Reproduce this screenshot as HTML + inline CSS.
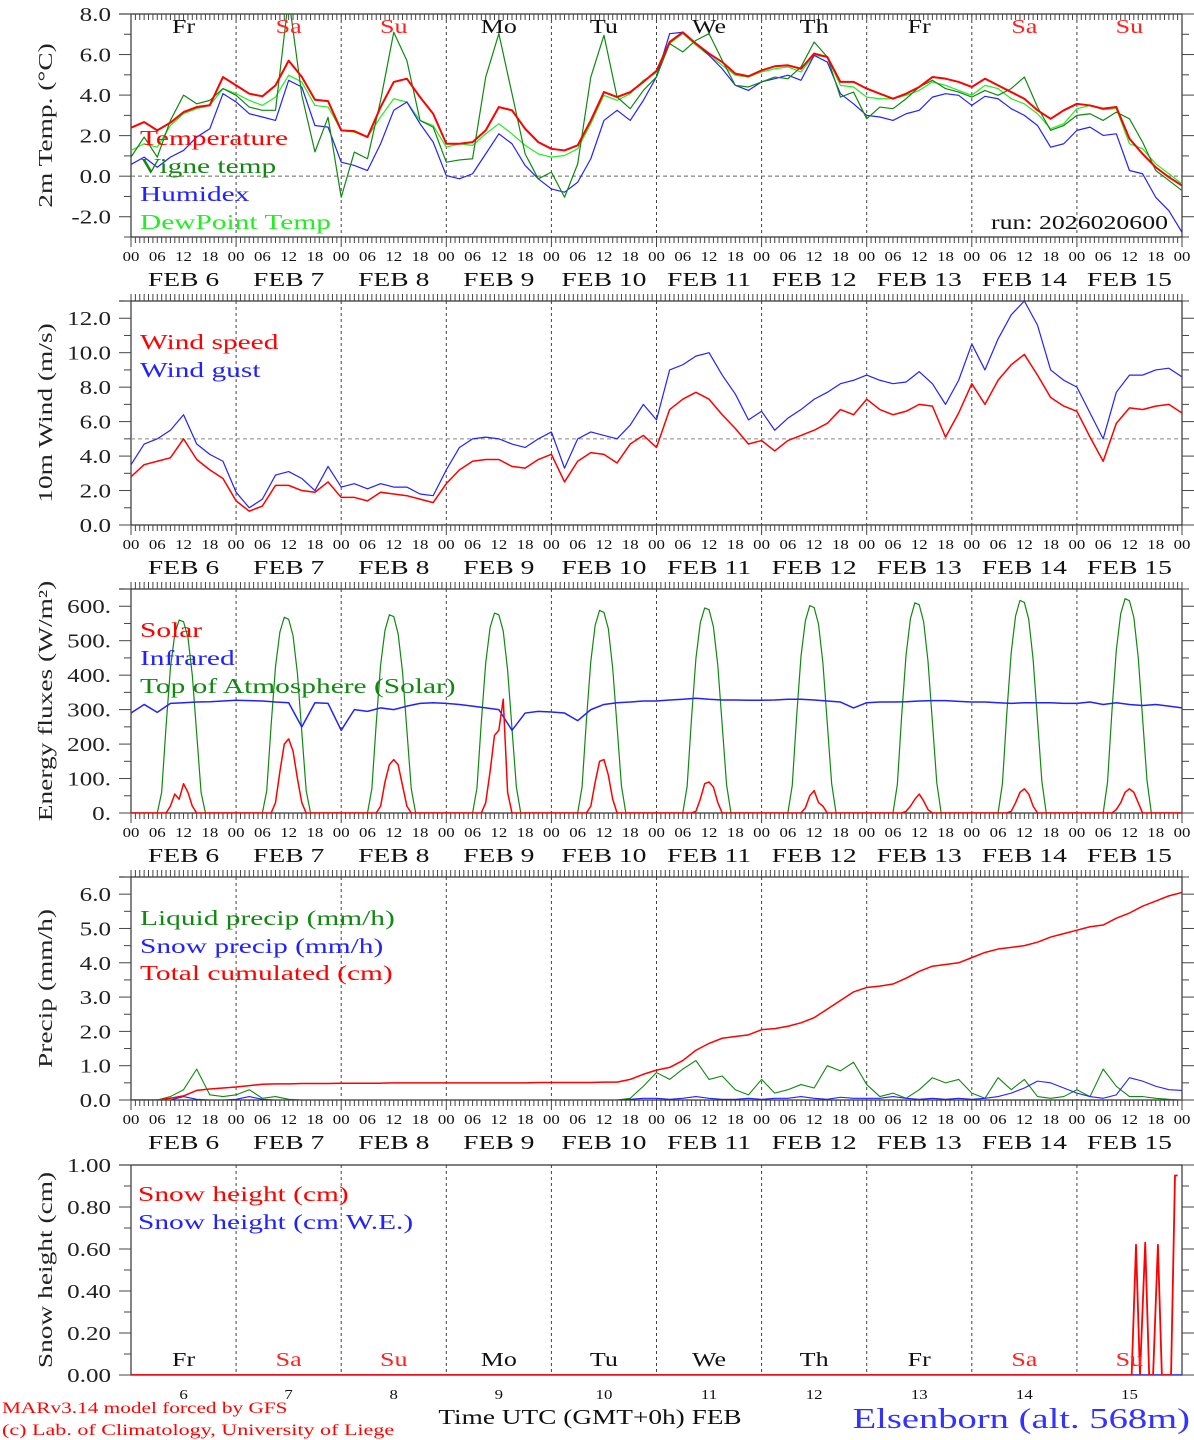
<!DOCTYPE html>
<html><head><meta charset="utf-8"><style>
html,body{margin:0;padding:0;background:#fff}
svg{display:block;font-family:"Liberation Serif","DejaVu Serif",serif}
</style></head><body>
<svg id="chart" width="1194" height="1440" viewBox="0 0 1194 1440" xmlns="http://www.w3.org/2000/svg"></svg>
<script>
// ---------- DATA ----------
const hours3 = [0,3,6,9,12,15,18,21,24,27,30,33,36,39,42,45,48,51,54,57,60,63,66,69,72,75,78,81,84,87,90,93,96,99,102,105,108,111,114,117,120,123,126,129,132,135,138,141,144,147,150,153,156,159,162,165,168,171,174,177,180,183,186,189,192,195,198,201,204,207,210,213,216,219,222,225,228,231,234,237,240];
const dayLabels = ["6","7","8","9","10","11","12","13","14","15"];
const dayNames = ["Fr","Sa","Su","Mo","Tu","We","Th","Fr","Sa","Su"];
const weekend = [false,true,true,false,false,false,false,false,true,true];
const hourTickLabels = ["00","06","12","18"];

const temperature = [2.39,2.67,2.26,2.64,3.16,3.41,3.5,4.89,4.48,4.07,3.94,4.48,5.7,4.9,3.77,3.7,2.26,2.22,1.93,3.41,4.65,4.81,3.9,3.08,1.6,1.6,1.68,2.26,3.41,3.25,2.34,1.68,1.35,1.27,1.52,2.75,4.15,3.9,4.15,4.65,5.2,6.62,7.1,6.54,6.05,5.63,5.06,4.93,5.22,5.42,5.47,5.3,6.05,5.88,4.65,4.65,4.32,4.07,3.82,4.07,4.4,4.89,4.81,4.65,4.4,4.81,4.48,4.15,3.82,3.25,2.83,3.25,3.57,3.49,3.33,3.41,1.85,1.1,0.44,-0.05,-0.46];
const vigneTemp = [0.94,1.93,0.94,2.75,4.0,3.57,3.74,4.32,3.99,3.41,3.25,3.25,8.8,4.0,1.2,2.9,-1.04,1.19,0.86,3.74,7.1,5.7,2.75,2.42,0.69,0.8,0.86,4.89,7.03,4.07,1.1,-0.13,0.2,-1.04,0.6,4.89,6.95,3.9,3.33,4.23,4.9,6.54,6.13,6.7,7.03,5.72,4.48,4.4,4.65,4.89,4.81,5.39,6.62,5.88,3.9,4.15,2.83,3.41,3.33,3.82,4.4,4.73,4.32,4.15,3.9,4.23,3.99,4.32,4.89,3.41,2.26,2.5,3.0,3.08,2.75,3.16,2.83,1.68,0.28,-0.21,-0.71];
const humidex = [0.58,0.94,0.44,0.94,1.27,1.93,2.34,4.07,3.66,3.08,2.92,2.75,4.73,4.4,2.5,2.42,0.69,0.53,0.28,1.6,3.25,3.66,2.59,1.68,0.03,-0.13,0.12,1.1,2.09,1.6,0.53,-0.13,-0.63,-0.79,-0.3,0.86,2.75,3.25,2.75,3.74,4.9,7.03,7.1,6.54,5.96,5.3,4.48,4.23,4.65,4.81,4.98,4.73,5.96,5.63,4.07,3.57,3.0,2.92,2.75,3.08,3.25,3.9,4.07,3.99,3.49,3.94,3.82,3.33,3.0,2.5,1.43,1.6,2.26,2.42,2.01,2.09,0.28,0.12,-1.04,-1.7,-2.77];
const dewPoint = [1.27,1.6,1.43,2.5,3.08,3.33,3.49,4.32,4.07,3.74,3.49,3.9,4.98,4.65,3.49,3.41,2.26,2.17,1.93,2.92,3.82,3.66,2.75,2.5,1.43,1.6,1.52,2.09,2.59,2.09,1.52,1.1,0.94,1.02,1.35,2.59,3.99,3.74,4.07,4.73,5.1,6.54,7.03,6.46,5.96,5.47,4.98,4.89,5.14,5.3,5.39,5.14,5.96,5.88,4.48,4.4,3.9,3.82,3.82,3.99,4.23,4.65,4.48,4.23,3.99,4.48,4.32,3.82,3.57,3.08,2.34,2.59,3.33,3.49,3.28,3.33,1.6,1.35,0.61,0.12,-0.38];

const windSpeed = [2.8,3.5,3.7,3.9,5.0,3.8,3.2,2.7,1.4,0.8,1.1,2.3,2.3,2.0,1.9,2.5,1.6,1.6,1.4,1.9,1.8,1.7,1.5,1.3,2.4,3.2,3.7,3.8,3.8,3.4,3.3,3.8,4.1,2.5,3.7,4.2,4.1,3.6,4.7,5.2,4.5,6.7,7.3,7.7,7.3,6.4,5.6,4.7,4.9,4.3,4.9,5.2,5.5,5.9,6.7,6.4,7.3,6.7,6.4,6.6,7.0,6.9,5.1,6.5,8.2,7.0,8.4,9.3,9.9,8.7,7.4,6.9,6.6,5.1,3.7,5.9,6.8,6.7,6.9,7.0,6.5];
const windGust = [3.5,4.7,5.0,5.5,6.4,4.7,4.1,3.7,1.9,1.0,1.5,2.9,3.1,2.7,2.0,3.4,2.2,2.4,2.1,2.4,2.2,2.2,1.8,1.7,3.2,4.5,5.0,5.1,5.0,4.7,4.5,5.0,5.4,3.3,5.0,5.4,5.2,5.0,5.8,7.0,6.1,9.0,9.3,9.8,10.0,8.7,7.6,6.1,6.6,5.5,6.2,6.7,7.3,7.7,8.2,8.4,8.7,8.4,8.2,8.3,8.9,8.2,7.0,8.4,10.5,9.0,10.8,12.2,13.0,11.6,9.0,8.4,8.0,6.5,5.0,7.7,8.7,8.7,9.0,9.1,8.6];

const sunHours = [0,6,7,8,9,10,11,12,13,14,15,16,17,30,31,32,33,34,35,36,37,38,39,40,41,54,55,56,57,58,59,60,61,62,63,64,65,78,79,80,81,82,83,84,85,86,87,88,89,102,103,104,105,106,107,108,109,110,111,112,113,126,127,128,129,130,131,132,133,134,135,136,137,150,151,152,153,154,155,156,157,158,159,160,161,174,175,176,177,178,179,180,181,182,183,184,185,198,199,200,201,202,203,204,205,206,207,208,209,222,223,224,225,226,227,228,229,230,231,232,233,240];
const toaSolar = [0,0,60,250,420,520,560,555,510,400,230,60,0,0,65,255,425,525,568,562,515,405,235,65,0,0,70,260,430,530,575,570,520,410,240,70,0,0,72,265,435,538,580,575,528,415,245,75,0,0,75,270,440,545,588,582,535,420,250,78,0,0,78,275,448,552,595,590,540,428,255,82,0,0,80,280,455,558,602,596,548,435,260,85,0,0,83,285,460,565,610,604,555,440,265,88,0,0,86,290,466,572,617,611,562,446,270,92,0,0,90,295,472,578,622,616,568,452,275,95,0,0];
const solar = [0,0,0,0,20,55,40,85,60,20,0,0,0,0,0,0,30,120,200,215,180,100,30,0,0,0,0,0,20,90,140,155,140,80,20,0,0,0,0,0,30,120,225,240,330,60,0,0,0,0,0,0,20,90,150,155,110,40,0,0,0,0,0,0,5,40,85,90,75,30,0,0,0,0,0,0,0,15,50,65,30,20,0,0,0,0,0,0,5,20,40,55,35,10,0,0,0,0,0,0,5,30,60,70,55,20,0,0,0,0,0,0,10,30,60,70,60,30,0,0,0,0];
const infrared = [290,315,292,318,320,322,323,325,327,326,325,322,320,250,320,318,240,300,295,305,300,310,318,320,318,315,310,305,300,240,290,295,293,290,268,300,315,320,322,325,325,328,330,333,330,328,328,327,327,328,330,330,328,325,322,305,320,322,322,323,325,326,326,324,322,322,320,318,320,320,320,318,318,322,315,320,315,312,315,310,305];

const liquidPrecip = [0,0,0,0.1,0.3,0.9,0.15,0.1,0.15,0.3,0.05,0.1,0.02,0,0,0,0,0,0,0,0,0,0,0,0,0,0,0,0,0,0,0,0,0,0,0,0,0,0.05,0.4,0.8,0.6,0.9,1.15,0.6,0.7,0.3,0.15,0.6,0.2,0.3,0.45,0.35,1.0,0.85,1.1,0.45,0.1,0.2,0.05,0.3,0.65,0.5,0.6,0.2,0.05,0.65,0.3,0.6,0.1,0.05,0.1,0.3,0.1,0.9,0.4,0.1,0.1,0.05,0.02,0];
const snowPrecip = [0,0,0,0,0.1,0.02,0,0,0.02,0.1,0.02,0,0,0,0,0,0,0,0,0,0,0,0,0,0,0,0,0,0,0,0,0,0,0,0,0,0,0,0.02,0.05,0.05,0.02,0.05,0.1,0.05,0.02,0.02,0.05,0.02,0.05,0.05,0.1,0.05,0.02,0.08,0.05,0.05,0.05,0.1,0.05,0.02,0.05,0.02,0.05,0.02,0.05,0.1,0.2,0.35,0.55,0.5,0.35,0.2,0.1,0.05,0.15,0.65,0.55,0.4,0.3,0.28];
const totalCumulated = [0,0,0,0.05,0.12,0.28,0.32,0.35,0.38,0.42,0.46,0.47,0.47,0.48,0.48,0.48,0.49,0.49,0.49,0.49,0.5,0.5,0.5,0.5,0.5,0.5,0.5,0.5,0.5,0.5,0.5,0.51,0.51,0.51,0.51,0.51,0.52,0.52,0.6,0.75,0.87,0.95,1.15,1.45,1.65,1.8,1.85,1.9,2.05,2.08,2.15,2.25,2.4,2.65,2.9,3.15,3.28,3.32,3.38,3.55,3.75,3.9,3.95,4.0,4.15,4.3,4.4,4.45,4.5,4.6,4.75,4.85,4.95,5.05,5.1,5.3,5.45,5.65,5.8,5.95,6.05];

const snowHours = [0,228.5,229.5,230.4,231.6,232.5,233.4,234.5,235.4,237.5,238.4,239];
const snowHeight = [0,0,0.62,0,0.63,0,0,0.62,0,0,0.95,0.95];
const snowWEHours = [0,240];
const snowWE = [0,0];

// ---------- DRAWING ----------
const NS = "http://www.w3.org/2000/svg";
const svg = document.getElementById("chart");
const X0 = 131, X1 = 1182, TMAX = 240;
function xs(t){ return X0 + t*(X1-X0)/TMAX; }
function mk(tag, attrs, parent){
  const e = document.createElementNS(NS, tag);
  for (const k in attrs) e.setAttribute(k, attrs[k]);
  (parent||svg).appendChild(e);
  return e;
}
function txt(s, x, y, size, color, anchor, parent, name, stretch){
  const e = mk("text", {x:x, y:y, "font-size":size, fill:color||"#000", "text-anchor":anchor||"start"}, parent);
  e.setAttribute("xml:space","preserve");
  
  
  e.textContent = s;
  const f = stretch || 1.33;
  try {
    const w = e.getComputedTextLength();
    if (w > 0){ e.setAttribute("textLength", (w*f).toFixed(1)); e.setAttribute("lengthAdjust", "spacingAndGlyphs"); }
  } catch(err) {}
  return e;
}

const panels = [
  {name:"temperature-panel", top:14, bot:237, min:-3, max:8, major:2, minor:1, fmt:v=>v.toFixed(1), title:"2m Temp. (\u00B0C)", hours:true},
  {name:"wind-panel", top:301, bot:525, min:0, max:13, major:2, minor:1, fmt:v=>v.toFixed(1), title:"10m Wind (m/s)", hours:true},
  {name:"energy-panel", top:589, bot:813, min:0, max:650, major:100, minor:50, fmt:v=>v.toFixed(0)+".", title:"Energy fluxes (W/m\u00B2)", hours:true},
  {name:"precip-panel", top:877, bot:1100, min:0, max:6.5, major:1, minor:0.5, fmt:v=>v.toFixed(1), title:"Precip (mm/h)", hours:true},
  {name:"snow-panel", top:1165, bot:1375, min:0, max:1, major:0.2, minor:0.1, fmt:v=>v.toFixed(2), title:"Snow height (cm)", hours:false}
];

function yScale(p){ return v => p.bot - (v-p.min)*(p.bot-p.top)/(p.max-p.min); }

function drawSeries(p, g, ts, vs, color, width, name){
  const y = yScale(p);
  let d = "";
  const n = Math.min(ts.length, vs.length);
  for (let i=0;i<n;i++) d += (i?"L":"M") + xs(ts[i]).toFixed(2) + "," + y(vs[i]).toFixed(2);
  const path = mk("path", {d:d, fill:"none", stroke:color, "stroke-width":width, "stroke-linejoin":"round", "clip-path":"url(#clip-"+p.name+")"}, g);
  
  
}

const defs = mk("defs", {});
panels.forEach((p, pi) => {
  const cp = mk("clipPath", {id:"clip-"+p.name}, defs);
  mk("rect", {x:X0, y:p.top, width:X1-X0, height:p.bot-p.top}, cp);

  const g = mk("g", {});
  
  
  const y = yScale(p);

  for (let d=1; d<10; d++){
    const l = mk("line", {x1:xs(d*24), x2:xs(d*24), y1:p.top, y2:p.bot, stroke:"#444", "stroke-width":1, "stroke-dasharray":"3,3"}, g);
    
    
  }
  const fr = mk("path", {d:`M${X0},${p.top}H${X1}V${p.bot}H${X0}Z`, fill:"none", stroke:"#333", "stroke-width":1.2}, g);
  
  
  mk("line", {x1:119, x2:X0, y1:p.top, y2:p.top, stroke:"#333", "stroke-width":1.2}, g);

  const ticks = mk("g", {stroke:"#444", "stroke-width":1}, g);
  
  
  const nMinor = Math.round((p.max-p.min)/p.minor);
  for (let i=0;i<=nMinor;i++){
    const v = p.min + i*p.minor;
    const isMajor = Math.abs(v/p.major - Math.round(v/p.major)) < 1e-6;
    const len = isMajor ? 12 : 7;
    const yy = y(v);
    mk("line", {x1:X0-len, x2:X0, y1:yy, y2:yy}, ticks);
    mk("line", {x1:X1, x2:X1+len, y1:yy, y2:yy}, ticks);
    if (isMajor && yy >= p.top-1){
      txt(p.fmt(v), 111, yy+7, 20, "#222", "end", g, 'y-tick-label', 1.25);
    }
  }
  const cy = (p.top+p.bot)/2;
  const tt = txt(p.title, 0, 0, 20, "#222", "middle", g, 'y-axis-title', 1.37);
  tt.setAttribute("transform", `translate(52,${cy}) rotate(-90)`);

  if (p.hours){
    const ht = mk("g", {stroke:"#444", "stroke-width":1}, g);
    
    
    for (let h=0; h<=TMAX; h++){
      const xx = xs(h);
      const big = h%24===0 ? 10 : 6;
      if (pi===0) mk("line", {x1:xx, x2:xx, y1:p.top, y2:p.top+6}, ht);
      else mk("line", {x1:xx, x2:xx, y1:p.top-7, y2:p.top}, ht);
      mk("line", {x1:xx, x2:xx, y1:p.bot, y2:p.bot+big}, ht);
    }
    for (let h=0; h<=TMAX; h+=6){
      txt(hourTickLabels[(h/6)%4], xs(h), p.bot+24, 14, "#111", "middle", g, 'hour-tick-label', 1.2);
    }
    dayLabels.forEach((d, i) => {
      const lbl = d.length===1 ? "FEB  "+d : "FEB "+d;
      txt(lbl, xs(i*24+12), p.bot+49, 20, "#111", "middle", g, 'date-label', 1.38);
    });
  }
});

(function(){
  const p = panels[0], g = mk("g", {});
  
  
  const y = yScale(p);
  const z = mk("line", {x1:X0, x2:X1, y1:y(0), y2:y(0), stroke:"#666", "stroke-width":1, "stroke-dasharray":"4,3"}, g);
  
  
  drawSeries(p, g, hours3, dewPoint, "#22ee22", 1.2, "dewpoint-line");
  drawSeries(p, g, hours3, humidex, "#2222ff", 1.2, "humidex-line");
  drawSeries(p, g, hours3, vigneTemp, "#118811", 1.2, "vigne-temp-line");
  drawSeries(p, g, hours3, temperature, "#ff0000", 2, "temperature-line");
  dayNames.forEach((n, i) => txt(n, xs(i*24+12), 33, 20, weekend[i]?"#ff2020":"#111", "middle", g, 'day-name', 1.3));
  txt("Temperature", 140, 145, 21, "#ff0000", "start", g, 'legend-temperature', 1.4);
  txt("Vigne temp", 140, 173, 21, "#118811", "start", g, 'legend-vigne-temp', 1.4);
  txt("Humidex", 140, 201, 21, "#2222ff", "start", g, 'legend-humidex', 1.4);
  txt("DewPoint Temp", 140, 229, 21, "#22ee22", "start", g, 'legend-dewpoint', 1.4);
  txt("run: 2026020600", 1168, 229, 20, "#111", "end", g, 'run-label', 1.29);
})();

(function(){
  const p = panels[1], g = mk("g", {});
  
  
  const y = yScale(p);
  const r = mk("line", {x1:X0, x2:X1, y1:y(5), y2:y(5), stroke:"#888", "stroke-width":1, "stroke-dasharray":"4,3"}, g);
  
  
  drawSeries(p, g, hours3, windGust, "#2222ff", 1.2, "wind-gust-line");
  drawSeries(p, g, hours3, windSpeed, "#ff0000", 1.5, "wind-speed-line");
  txt("Wind speed", 140, 349, 21, "#ff0000", "start", g, 'legend-wind-speed', 1.4);
  txt("Wind gust", 140, 377, 21, "#2222ff", "start", g, 'legend-wind-gust', 1.4);
})();

(function(){
  const p = panels[2], g = mk("g", {});
  
  
  drawSeries(p, g, sunHours, toaSolar, "#118811", 1.2, "toa-solar-line");
  drawSeries(p, g, hours3, infrared, "#2222ff", 1.5, "infrared-line");
  drawSeries(p, g, sunHours, solar, "#ff0000", 1.5, "solar-line");
  txt("Solar", 140, 637, 21, "#ff0000", "start", g, 'legend-solar', 1.4);
  txt("Infrared", 140, 665, 21, "#2222ff", "start", g, 'legend-infrared', 1.4);
  txt("Top of Atmosphere (Solar)", 140, 693, 21, "#118811", "start", g, 'legend-toa', 1.4);
})();

(function(){
  const p = panels[3], g = mk("g", {});
  
  
  drawSeries(p, g, hours3, liquidPrecip, "#118811", 1.1, "liquid-precip-line");
  drawSeries(p, g, hours3, snowPrecip, "#2222ff", 1.1, "snow-precip-line");
  drawSeries(p, g, hours3, totalCumulated, "#ff0000", 1.5, "total-cumulated-line");
  txt("Liquid precip (mm/h)", 140, 925, 21, "#118811", "start", g, 'legend-liquid-precip', 1.4);
  txt("Snow precip (mm/h)", 140, 953, 21, "#2222ff", "start", g, 'legend-snow-precip', 1.4);
  txt("Total cumulated (cm)", 140, 980, 21, "#ff0000", "start", g, 'legend-total-cumulated', 1.4);
})();

(function(){
  const p = panels[4], g = mk("g", {});
  
  
  drawSeries(p, g, snowWEHours, snowWE, "#2222ff", 1.5, "snow-we-line");
  drawSeries(p, g, snowHours, snowHeight, "#ff0000", 1.8, "snow-height-line");
  dayNames.forEach((n, i) => txt(n, xs(i*24+12), 1366, 20, weekend[i]?"#ff2020":"#111", "middle", g, 'day-name', 1.3));
  dayLabels.forEach((d, i) => txt(d, xs(i*24+12), 1399, 14, "#111", "middle", g, 'day-number', 1.2));
  txt("Snow height (cm)", 138, 1201, 21, "#ff0000", "start", g, 'legend-snow-height', 1.4);
  txt("Snow height (cm W.E.)", 138, 1229, 21, "#2222ff", "start", g, 'legend-snow-we', 1.4);
})();

txt("Time UTC (GMT+0h) FEB", 590, 1424, 21, "#111", "middle", svg, 'x-axis-title', 1.3);
txt("MARv3.14 model forced by GFS", 2, 1413, 16, "#ff0000", "start", svg, 'credit-model', 1.33);
txt("(c) Lab. of Climatology, University of Liege", 2, 1435, 16, "#ff0000", "start", svg, 'credit-lab', 1.38);
txt("Elsenborn (alt. 568m)", 1190, 1428, 29, "#3333ff", "end", svg, 'station-title', 1.33);
</script>
</body></html>
